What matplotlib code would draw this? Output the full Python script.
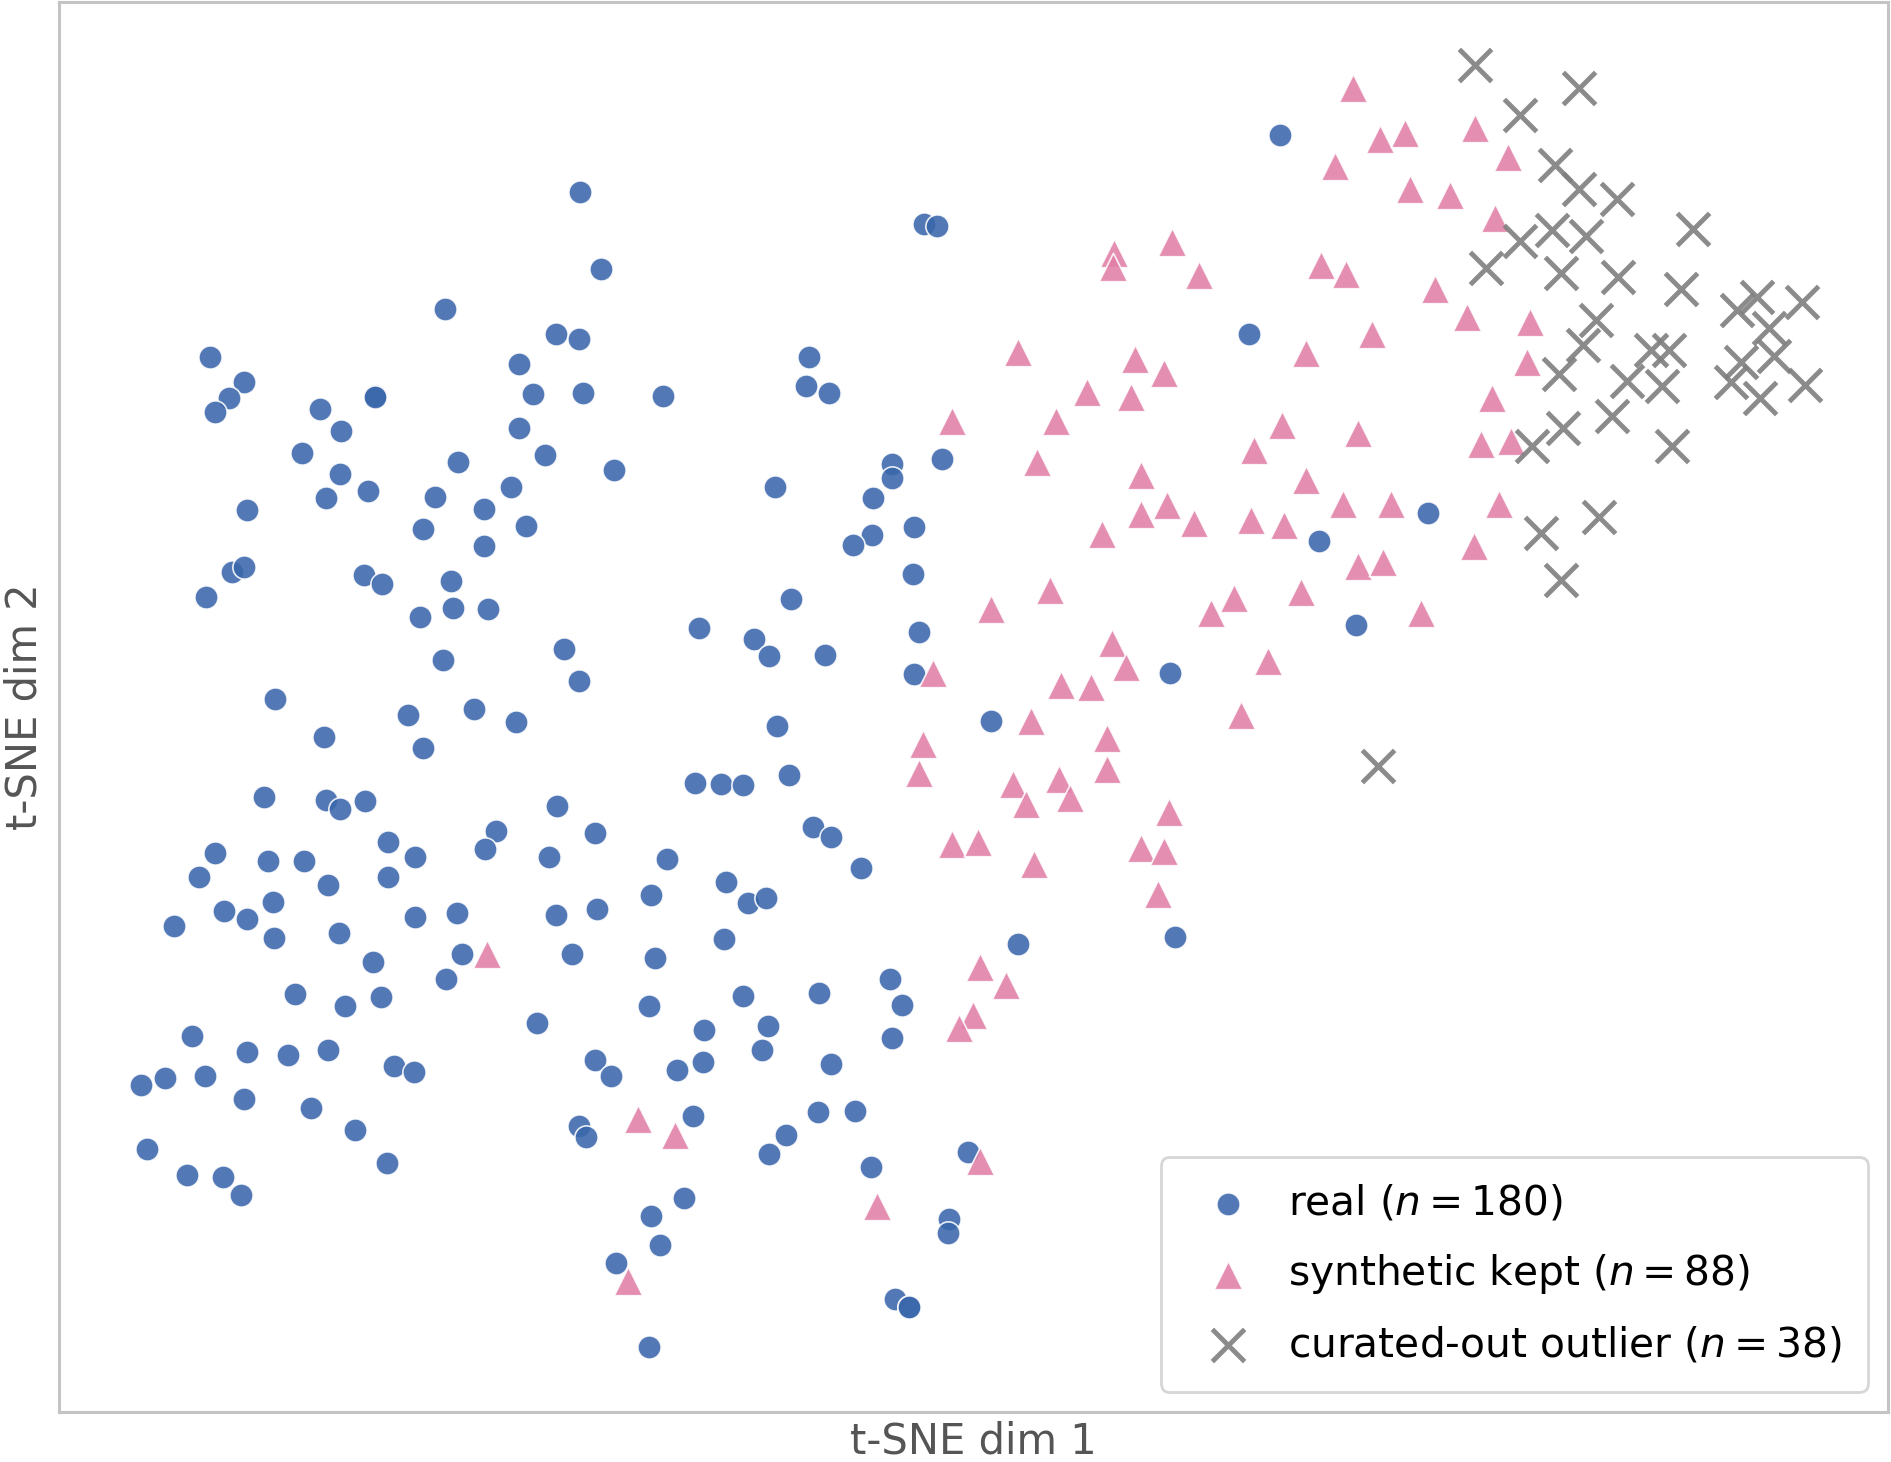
import matplotlib.pyplot as plt

# 2-D t-SNE embedding, coordinates (y grows downwards)
real_x = [174, 202, 190, 178, 265, 283, 311, 311, 250, 282,
          305, 270, 205, 369, 481, 498, 461, 480, 430, 442,
          483, 550, 430, 380, 452, 509, 361, 424, 401, 351,
          436, 401, 374, 302, 317, 192, 202, 171, 348, 376,
          405, 367, 468, 480, 228, 269, 338, 393, 428, 351,
          671, 668, 687, 766, 777, 643, 740, 740, 724, 781,
          758, 723, 707, 757, 656, 580, 625, 638, 684, 762,
          758, 644, 576, 598, 616, 654, 1061, 1036, 1184, 1094,
          1124, 970, 822, 844, 974, 219, 270, 282, 303, 178,
          165, 222, 252, 322, 322, 344, 272, 226, 186, 205,
          144, 227, 281, 344, 379, 309, 245, 286, 316, 383,
          370, 159, 205, 239, 272, 327, 343, 137, 170, 117,
          202, 258, 294, 122, 155, 185, 200, 321, 462, 411,
          402, 455, 493, 553, 540, 461, 495, 474, 543, 602,
          620, 635, 600, 674, 689, 714, 445, 538, 616, 584,
          637, 679, 738, 748, 740, 493, 507, 561, 583, 632,
          689, 575, 678, 709, 480, 486, 652, 638, 722, 803,
          567, 540, 547, 787, 786, 511, 742, 754, 754, 538]
real_y = [296, 317, 330, 342, 339, 357, 328, 329, 376, 393,
          407, 413, 423, 256, 159, 223, 277, 281, 302, 327,
          326, 328, 355, 383, 377, 390, 412, 404, 422, 439,
          436, 453, 482, 477, 484, 474, 470, 495, 512, 504,
          505, 547, 538, 565, 580, 611, 593, 588, 599, 620,
          296, 320, 326, 186, 187, 404, 385, 396, 413, 381,
          437, 444, 452, 476, 497, 521, 530, 544, 543, 524,
          559, 602, 649, 650, 651, 643, 112, 277, 425, 449,
          518, 558, 598, 783, 777, 661, 663, 671, 664, 707,
          727, 714, 714, 698, 727, 711, 734, 748, 755, 762,
          768, 778, 774, 760, 757, 798, 824, 834, 827, 791,
          812, 859, 872, 875, 871, 884, 889, 894, 892, 900,
          911, 919, 937, 953, 974, 976, 991, 964, 668, 689,
          704, 711, 691, 712, 742, 759, 754, 791, 794, 731,
          749, 745, 779, 686, 694, 720, 848, 834, 826, 854,
          851, 823, 812, 833, 861, 879, 892, 887, 881, 871,
          882, 925, 922, 921, 934, 943, 941, 957, 968, 955,
          993, 1008, 1032, 1011, 1022, 1047, 1077, 1084, 1084, 1117]

kept_x = [1122, 1144, 1165, 1223, 1107, 1250, 1169, 1202, 1240, 924,
          923, 972, 994, 1095, 1116, 1190, 1216, 1269, 1138, 844,
          1083, 941, 965, 901, 938, 1266, 789, 876, 1063, 1126,
          1237, 860, 1040, 1228, 1253, 946, 1083, 968, 946, 990,
          914, 1037, 1065, 1114, 1153, 1243, 1222, 871, 1126, 1147,
          1023, 1079, 1004, 1178, 822, 922, 934, 774, 1051, 880,
          905, 1029, 855, 918, 765, 762, 918, 840, 878, 851,
          887, 969, 789, 811, 946, 965, 857, 960, 404, 813,
          834, 807, 795, 529, 560, 813, 727, 521]
kept_y = [73, 115, 110, 106, 138, 130, 157, 162, 181, 210,
          221, 201, 228, 220, 227, 240, 263, 267, 277, 292,
          293, 298, 309, 325, 329, 300, 349, 349, 352, 359,
          330, 383, 373, 368, 366, 394, 398, 419, 426, 434,
          443, 431, 435, 418, 418, 418, 453, 489, 469, 466,
          496, 491, 508, 508, 505, 533, 553, 558, 548, 568,
          570, 593, 598, 612, 617, 641, 638, 650, 646, 667,
          662, 673, 700, 698, 703, 706, 716, 741, 791, 802,
          817, 842, 852, 928, 941, 963, 1000, 1062]

out_x = [1223, 1309, 1260, 1289, 1309, 1341, 1404, 1260, 1287, 1315,
         1232, 1294, 1342, 1394, 1440, 1457, 1494, 1323, 1467, 1313,
         1369, 1384, 1444, 1471, 1293, 1349, 1378, 1435, 1497, 1459,
         1337, 1296, 1270, 1386, 1278, 1326, 1294, 1143]
out_y = [54, 73, 95, 137, 157, 165, 190, 200, 191, 196,
         222, 226, 230, 240, 257, 246, 250, 265, 272, 286,
         290, 290, 300, 295, 310, 316, 320, 317, 319, 330,
         345, 355, 370, 370, 442, 429, 481, 635]

W, H, DPI = 1891, 1462, 200
fig = plt.figure(figsize=(W / DPI, H / DPI), dpi=DPI)
ax = fig.add_axes([59 / W, 50 / H, 1829 / W, 1410 / H])

ax.scatter(real_x, real_y, s=70, marker="o", color="#3a67ab", alpha=0.88,
           edgecolors="white", linewidths=0.6,
           label=f"real ($n = {len(real_x)}$)")
ax.scatter(kept_x, kept_y, s=105, marker="^", color="#e180a8", alpha=0.88,
           edgecolors="white", linewidths=0.6,
           label=f"synthetic kept ($n = {len(kept_x)}$)")
ax.scatter(out_x, out_y, s=135, marker="x", color="#7f7f7f", alpha=0.9,
           linewidths=1.75,
           label=f"curated-out outlier ($n = {len(out_x)}$)")

ax.set_xlim(48.9, 1565.5)
ax.set_ylim(1170.8, 1.66)
ax.set_xticks([])
ax.set_yticks([])
for sp in ax.spines.values():
    sp.set_color("#c4c4c4")
    sp.set_linewidth(1.1)

ax.set_xlabel("t-SNE dim 1", fontsize=15, color="#555555", labelpad=3.2)
ax.set_ylabel("t-SNE dim 2", fontsize=15, color="#555555", labelpad=5)

leg = ax.legend(loc="lower right", fontsize=14.7, frameon=True, borderpad=0.65,
                labelspacing=0.7, handletextpad=0.45, fancybox=True)
leg.get_frame().set_edgecolor("#cccccc")
leg.get_frame().set_linewidth(1.0)

fig.savefig("out.png", dpi=DPI)
